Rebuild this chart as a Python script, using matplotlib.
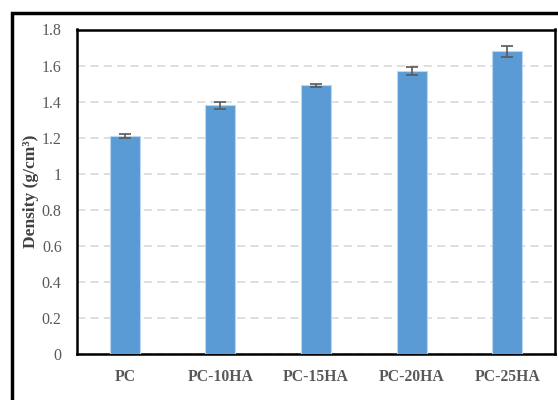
import matplotlib
matplotlib.use("Agg")
import matplotlib.pyplot as plt
from matplotlib.patches import Rectangle

categories = ["PC", "PC-10HA", "PC-15HA", "PC-20HA", "PC-25HA"]
density = [1.21, 1.38, 1.49, 1.57, 1.68]
errors = [0.01, 0.02, 0.01, 0.02, 0.03]
yticks = [0, 0.2, 0.4, 0.6, 0.8, 1, 1.2, 1.4, 1.6, 1.8]
ytick_labels = ["0", "0.2", "0.4", "0.6", "0.8", "1", "1.2", "1.4", "1.6", "1.8"]

serif = ["Liberation Serif", "DejaVu Serif"]
gray = "#595959"

fig = plt.figure(figsize=(5.58, 4.0), dpi=100)
ax = fig.add_axes([77/558, 1-354/400, (555-77)/558, (354-29.5)/400])

x = list(range(len(categories)))
ax.bar(x, density, width=0.315, color="#5B9BD5", edgecolor="#BDD7EE", linewidth=0.8, zorder=3)
ax.errorbar(x, density, yerr=errors, fmt="none", ecolor=gray, elinewidth=1.2,
            capsize=4, capthick=1.2, zorder=4)

ax.set_xlim(-0.5, len(categories) - 0.5)
ax.set_ylim(0, 1.8)
ax.set_yticks(yticks)
ax.set_yticklabels(ytick_labels, fontfamily=serif, fontsize=11.5, color=gray)
ax.set_xticks(x)
ax.set_xticklabels(categories, fontfamily=serif, fontsize=11.3, color=gray, fontweight="bold")
ax.tick_params(axis="y", length=0, pad=11)
ax.tick_params(axis="x", length=0, pad=11)
ax.yaxis.grid(True, color="#D9D9D9", linestyle=(0, (5, 3)), linewidth=1.2, zorder=0)
ax.set_axisbelow(True)
for s in ax.spines.values():
    s.set_color("black")
    s.set_linewidth(1.8)

ax.set_ylabel("Density (g/cm³)", fontfamily=serif, fontsize=12.5, fontweight="bold",
              color="#404040")
ax.yaxis.set_label_coords(-0.08, 0.5)

# outer frame
fig.patches.append(Rectangle((12/558, -0.1), 1.2, 1-13/400+0.1, transform=fig.transFigure,
                             fill=False, edgecolor="black", linewidth=2.5))

fig.savefig("out.png", dpi=100)
